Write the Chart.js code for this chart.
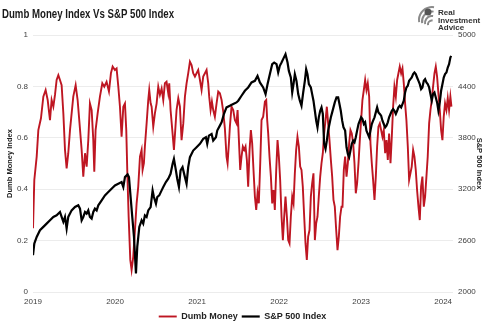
<!DOCTYPE html>
<html>
<head>
<meta charset="utf-8">
<title>Dumb Money Index Vs S&amp;P 500 Index</title>
<script src="https://cdn.jsdelivr.net/npm/chart.js@4.4.1/dist/chart.umd.min.js"></script>
<style>
  html, body { margin: 0; padding: 0; background: #fff; }
  #wrap { width: 485px; height: 335px; position: relative; }
</style>
</head>
<body>
<div id="wrap"><canvas id="chart" width="485" height="335"></canvas></div>
<script>
// Dumb Money Index (left axis), x in decimal years
const dmYears = [
  2019.000, 2019.016, 2019.045, 2019.065, 2019.097, 2019.126, 2019.154, 2019.179, 2019.207, 2019.227,
  2019.248, 2019.268, 2019.288, 2019.309, 2019.329, 2019.349, 2019.370, 2019.390, 2019.410, 2019.430,
  2019.451, 2019.491, 2019.520, 2019.544, 2019.564, 2019.593, 2019.613, 2019.634, 2019.654, 2019.674,
  2019.694, 2019.715, 2019.735, 2019.747, 2019.763, 2019.788, 2019.816, 2019.845, 2019.869, 2019.897,
  2019.926, 2019.950, 2019.971, 2019.999, 2020.019, 2020.040, 2020.060, 2020.080, 2020.101, 2020.121,
  2020.137, 2020.149, 2020.166, 2020.186, 2020.202, 2020.222, 2020.243, 2020.263, 2020.283, 2020.304,
  2020.324, 2020.336, 2020.352, 2020.364, 2020.385, 2020.405, 2020.417, 2020.434, 2020.446, 2020.466,
  2020.486, 2020.507, 2020.527, 2020.547, 2020.568, 2020.588, 2020.608, 2020.628, 2020.649, 2020.661,
  2020.677, 2020.698, 2020.718, 2020.734, 2020.750, 2020.771, 2020.791, 2020.811, 2020.832, 2020.852,
  2020.872, 2020.892, 2020.913, 2020.933, 2020.953, 2020.974, 2020.994, 2021.014, 2021.035, 2021.055,
  2021.075, 2021.096, 2021.116, 2021.136, 2021.148, 2021.165, 2021.181, 2021.197, 2021.217, 2021.238,
  2021.258, 2021.278, 2021.299, 2021.319, 2021.339, 2021.359, 2021.372, 2021.388, 2021.400, 2021.420,
  2021.441, 2021.461, 2021.481, 2021.494, 2021.510, 2021.526, 2021.542, 2021.558, 2021.575, 2021.591,
  2021.607, 2021.623, 2021.640, 2021.656, 2021.672, 2021.688, 2021.705, 2021.721, 2021.737, 2021.753,
  2021.770, 2021.786, 2021.806, 2021.827, 2021.843, 2021.855, 2021.867, 2021.883, 2021.900, 2021.916,
  2021.932, 2021.948, 2021.965, 2021.981, 2021.997, 2022.013, 2022.030, 2022.046, 2022.062, 2022.078,
  2022.095, 2022.111, 2022.127, 2022.143, 2022.160, 2022.176, 2022.192, 2022.208, 2022.224, 2022.241,
  2022.257, 2022.273, 2022.289, 2022.306, 2022.322, 2022.338, 2022.354, 2022.371, 2022.387, 2022.403,
  2022.419, 2022.436, 2022.452, 2022.468, 2022.484, 2022.501, 2022.517, 2022.533, 2022.549, 2022.566,
  2022.582, 2022.598, 2022.614, 2022.631, 2022.647, 2022.663, 2022.679, 2022.696, 2022.712, 2022.728,
  2022.744, 2022.761, 2022.773, 2022.789, 2022.805, 2022.822, 2022.838, 2022.854, 2022.870, 2022.886,
  2022.903, 2022.919, 2022.935, 2022.951, 2022.968, 2022.984, 2023.000, 2023.016, 2023.033, 2023.049,
  2023.065, 2023.081, 2023.098, 2023.114, 2023.130, 2023.146, 2023.163, 2023.179, 2023.195, 2023.211,
  2023.228, 2023.244, 2023.260, 2023.276, 2023.293, 2023.309, 2023.325, 2023.341, 2023.358, 2023.374,
  2023.390, 2023.406, 2023.423, 2023.439, 2023.455, 2023.471, 2023.488, 2023.504, 2023.520, 2023.536,
  2023.552, 2023.569, 2023.585, 2023.601, 2023.617, 2023.634, 2023.650, 2023.666, 2023.682, 2023.699,
  2023.715, 2023.731, 2023.747, 2023.764, 2023.780, 2023.796, 2023.812, 2023.829, 2023.845, 2023.861,
  2023.877, 2023.894, 2023.910, 2023.926, 2023.942, 2023.959, 2023.975, 2023.991, 2024.007, 2024.023,
  2024.040, 2024.056, 2024.072, 2024.088, 2024.101
];
const dmValues = [
  0.248, 0.436, 0.527, 0.630, 0.676, 0.760, 0.786, 0.747, 0.669, 0.747,
  0.721, 0.767, 0.825, 0.844, 0.825, 0.805, 0.695, 0.553, 0.481, 0.540,
  0.630, 0.760, 0.805, 0.747, 0.669, 0.553, 0.449, 0.540, 0.488, 0.591,
  0.734, 0.708, 0.591, 0.468, 0.630, 0.695, 0.760, 0.812, 0.799, 0.818,
  0.780, 0.851, 0.877, 0.864, 0.870, 0.799, 0.721, 0.604, 0.721, 0.734,
  0.630, 0.475, 0.293, 0.125, 0.086, 0.137, 0.241, 0.345, 0.410, 0.527,
  0.553, 0.475, 0.501, 0.566, 0.656, 0.747, 0.786, 0.734, 0.721, 0.643,
  0.695, 0.734, 0.799, 0.767, 0.792, 0.747, 0.812, 0.818, 0.773, 0.812,
  0.708, 0.630, 0.553, 0.630, 0.708, 0.754, 0.721, 0.591, 0.656, 0.760,
  0.812, 0.851, 0.896, 0.883, 0.851, 0.838, 0.851, 0.864, 0.825, 0.786,
  0.838, 0.851, 0.864, 0.812, 0.760, 0.708, 0.741, 0.708, 0.682, 0.734,
  0.780, 0.773, 0.747, 0.702, 0.637, 0.527, 0.501, 0.578, 0.643, 0.721,
  0.708, 0.669, 0.656, 0.708, 0.591, 0.475, 0.527, 0.566, 0.553, 0.566,
  0.514, 0.410, 0.553, 0.630, 0.578, 0.475, 0.371, 0.319, 0.384, 0.345,
  0.501, 0.669, 0.682, 0.741, 0.747, 0.669, 0.617, 0.527, 0.449, 0.345,
  0.397, 0.319, 0.475, 0.591, 0.527, 0.436, 0.293, 0.202, 0.293, 0.371,
  0.293, 0.202, 0.189, 0.293, 0.371, 0.345, 0.462, 0.553, 0.604, 0.566,
  0.488, 0.475, 0.410, 0.293, 0.189, 0.125, 0.215, 0.241, 0.371, 0.423,
  0.462, 0.202, 0.267, 0.293, 0.371, 0.449, 0.501, 0.540, 0.617, 0.669,
  0.721, 0.656, 0.591, 0.514, 0.449, 0.358, 0.332, 0.241, 0.163, 0.215,
  0.293, 0.332, 0.332, 0.475, 0.527, 0.449, 0.501, 0.578, 0.630, 0.617,
  0.578, 0.501, 0.384, 0.423, 0.501, 0.591, 0.669, 0.747, 0.786, 0.825,
  0.786, 0.812, 0.760, 0.578, 0.501, 0.436, 0.358, 0.449, 0.566, 0.643,
  0.656, 0.630, 0.604, 0.630, 0.540, 0.591, 0.514, 0.617, 0.501, 0.604,
  0.721, 0.799, 0.760, 0.825, 0.851, 0.877, 0.851, 0.870, 0.812, 0.734,
  0.669, 0.566, 0.436, 0.462, 0.488, 0.553, 0.527, 0.475, 0.397, 0.332,
  0.280, 0.410, 0.449, 0.332, 0.371, 0.449, 0.527, 0.656, 0.708, 0.747,
  0.799, 0.851, 0.877, 0.838, 0.773, 0.708, 0.630, 0.591, 0.682, 0.734,
  0.708, 0.754, 0.708, 0.760, 0.721
];

// S&P 500 Index (right axis)
const spYears = [
  2019.000, 2019.016, 2019.045, 2019.085, 2019.126, 2019.166, 2019.207, 2019.248, 2019.288, 2019.329,
  2019.349, 2019.370, 2019.390, 2019.410, 2019.430, 2019.471, 2019.512, 2019.552, 2019.573, 2019.593,
  2019.613, 2019.634, 2019.654, 2019.674, 2019.694, 2019.715, 2019.735, 2019.755, 2019.776, 2019.796,
  2019.837, 2019.877, 2019.918, 2019.958, 2019.999, 2020.040, 2020.080, 2020.101, 2020.121, 2020.153,
  2020.170, 2020.190, 2020.210, 2020.231, 2020.255, 2020.271, 2020.296, 2020.324, 2020.344, 2020.364,
  2020.385, 2020.405, 2020.434, 2020.458, 2020.474, 2020.499, 2020.515, 2020.539, 2020.568, 2020.588,
  2020.620, 2020.649, 2020.677, 2020.702, 2020.718, 2020.742, 2020.758, 2020.779, 2020.799, 2020.823,
  2020.852, 2020.872, 2020.892, 2020.913, 2020.953, 2020.994, 2021.035, 2021.075, 2021.108, 2021.124,
  2021.144, 2021.177, 2021.197, 2021.230, 2021.246, 2021.278, 2021.299, 2021.327, 2021.359, 2021.400,
  2021.441, 2021.481, 2021.502, 2021.542, 2021.583, 2021.623, 2021.664, 2021.705, 2021.737, 2021.766,
  2021.806, 2021.835, 2021.859, 2021.887, 2021.916, 2021.940, 2021.969, 2021.989, 2022.009, 2022.030,
  2022.058, 2022.078, 2022.103, 2022.119, 2022.143, 2022.160, 2022.176, 2022.192, 2022.212, 2022.233,
  2022.253, 2022.273, 2022.294, 2022.314, 2022.330, 2022.346, 2022.363, 2022.387, 2022.403, 2022.419,
  2022.436, 2022.452, 2022.468, 2022.484, 2022.501, 2022.517, 2022.533, 2022.549, 2022.566, 2022.582,
  2022.598, 2022.614, 2022.631, 2022.647, 2022.663, 2022.679, 2022.700, 2022.720, 2022.736, 2022.752,
  2022.769, 2022.785, 2022.805, 2022.822, 2022.838, 2022.854, 2022.870, 2022.886, 2022.903, 2022.919,
  2022.935, 2022.951, 2022.968, 2022.984, 2023.000, 2023.016, 2023.033, 2023.049, 2023.065, 2023.081,
  2023.098, 2023.114, 2023.130, 2023.146, 2023.163, 2023.179, 2023.195, 2023.211, 2023.228, 2023.244,
  2023.260, 2023.276, 2023.293, 2023.309, 2023.325, 2023.341, 2023.358, 2023.374, 2023.390, 2023.406,
  2023.423, 2023.439, 2023.455, 2023.471, 2023.488, 2023.504, 2023.520, 2023.536, 2023.552, 2023.569,
  2023.585, 2023.601, 2023.617, 2023.634, 2023.650, 2023.666, 2023.682, 2023.699, 2023.715, 2023.731,
  2023.747, 2023.764, 2023.780, 2023.796, 2023.812, 2023.829, 2023.845, 2023.861, 2023.877, 2023.894,
  2023.910, 2023.926, 2023.942, 2023.959, 2023.975, 2023.991, 2024.007, 2024.023, 2024.040, 2024.056,
  2024.072, 2024.088, 2024.097
];
const spValues = [
  2430, 2566, 2643, 2721, 2760, 2798, 2837, 2876, 2895, 2934,
  2876, 2818, 2876, 2740, 2876, 2953, 2992, 3012, 2973, 2837,
  2876, 2934, 2915, 2953, 2876, 2857, 2934, 2973, 2953, 3012,
  3070, 3128, 3167, 3205, 3244, 3264, 3283, 3225, 3341, 3372,
  3341, 3108, 2876, 2643, 2217, 2527, 2760, 2837, 2798, 2895,
  2876, 2953, 2992, 3186, 3109, 3031, 3109, 3128, 3186, 3225,
  3283, 3322, 3380, 3496, 3554, 3419, 3322, 3225, 3419, 3457,
  3341, 3264, 3457, 3574, 3651, 3690, 3729, 3787, 3806, 3729,
  3826, 3845, 3767, 3806, 3884, 3942, 3981, 4078, 4155, 4174,
  4194, 4213, 4233, 4291, 4349, 4388, 4446, 4465, 4523, 4446,
  4388, 4310, 4426, 4543, 4659, 4678, 4659, 4562, 4640, 4678,
  4736, 4775, 4678, 4581, 4504, 4330, 4426, 4543, 4465, 4310,
  4233, 4174, 4330, 4465, 4601, 4543, 4426, 4388, 4310, 4233,
  4116, 4000, 3922, 4039, 4116, 4155, 4078, 3729, 3671, 3767,
  3884, 3961, 4039, 4097, 4155, 4213, 4271, 4271, 4194, 4116,
  4000, 3922, 3884, 3690, 3612, 3574, 3651, 3729, 3767, 3748,
  3806, 3884, 3961, 4000, 4039, 4019, 3961, 3981, 3884, 3845,
  3806, 3884, 3961, 4000, 4039, 4097, 4155, 4097, 4078, 4058,
  4000, 3961, 3922, 3942, 3981, 4039, 4078, 4116, 4136, 4116,
  4078, 4116, 4155, 4174, 4155, 4194, 4233, 4329, 4388, 4407,
  4465, 4485, 4504, 4543, 4562, 4543, 4504, 4465, 4426, 4368,
  4388, 4465, 4485, 4446, 4426, 4388, 4310, 4233, 4310, 4329,
  4271, 4213, 4116, 4213, 4349, 4426, 4504, 4543, 4562, 4620,
  4659, 4736, 4756
];

// axis settings
const yearTicks = [2019, 2020, 2021, 2022, 2023, 2024];
const dmTicks = [0, 0.2, 0.4, 0.6, 0.8, 1];
const spTicks = [2000, 2600, 3200, 3800, 4400, 5000];

const FONT = "'Liberation Sans Narrow', 'Liberation Sans', Arial, sans-serif";
const TEXT = '#404040';

const toPoints = (xs, ys) => xs.map((x, i) => ({ x: x, y: ys[i] }));

// title + logo drawn on the canvas
const decorations = {
  id: 'decorations',
  afterDraw(chart) {
    const ctx = chart.ctx;
    ctx.save();
    ctx.fillStyle = '#1a1a1a';
    ctx.font = "bold 12px " + FONT;
    ctx.textBaseline = 'middle';
    ctx.textAlign = 'left';
    ctx.fillText('Dumb Money Index Vs S&P 500 Index', 2, 15, 172);

    // small logo mark
    ctx.strokeStyle = '#8a8a8a';
    ctx.lineWidth = 2;
    for (let i = 0; i < 4; i++) {
      ctx.beginPath();
      ctx.arc(432, 20 + i * 1.5, 13 - i * 3, Math.PI * 0.95, Math.PI * 1.55);
      ctx.stroke();
    }
    ctx.fillStyle = '#555';
    ctx.beginPath();
    ctx.arc(428, 12, 3.5, 0, Math.PI * 2);
    ctx.fill();

    ctx.fillStyle = '#333';
    ctx.font = "bold 8px " + FONT;
    ctx.fillText('Real', 438, 13);
    ctx.fillText('Investment', 438, 20.5);
    ctx.fillText('Advice', 438, 28);
    ctx.restore();
  }
};

new Chart(document.getElementById('chart'), {
  type: 'line',
  data: {
    datasets: [
      {
        label: 'Dumb Money',
        data: toPoints(dmYears, dmValues),
        yAxisID: 'yDM',
        borderColor: '#be1622',
        backgroundColor: '#be1622',
        borderWidth: 1.9,
        pointRadius: 0,
        tension: 0,
        order: 1
      },
      {
        label: 'S&P 500 Index',
        data: toPoints(spYears, spValues),
        yAxisID: 'ySP',
        borderColor: '#000000',
        backgroundColor: '#000000',
        borderWidth: 2.2,
        pointRadius: 0,
        tension: 0,
        order: 0
      }
    ]
  },
  options: {
    responsive: false,
    animation: false,
    layout: { padding: { top: 35, left: 0, right: 0, bottom: 4 } },
    plugins: {
      legend: {
        position: 'bottom',
        labels: {
          usePointStyle: true,
          pointStyle: 'line',
          pointStyleWidth: 18,
          padding: 4,
          color: '#222',
          font: { family: FONT, size: 9, weight: 'bold' },
          sort: (a, b) => a.datasetIndex - b.datasetIndex
        }
      },
      tooltip: { enabled: false }
    },
    scales: {
      x: {
        type: 'linear',
        min: 2019,
        max: 2024.12,
        grid: { display: false, drawTicks: false },
        border: { display: false },
        afterBuildTicks: axis => { axis.ticks = yearTicks.map(v => ({ value: v })); },
        ticks: {
          padding: 5,
          maxRotation: 0,
          autoSkip: false,
          color: TEXT,
          font: { family: FONT, size: 8 },
          callback: v => String(v)
        },
        afterFit: axis => { axis.height = 16; }
      },
      yDM: {
        position: 'left',
        min: 0,
        max: 1,
        afterBuildTicks: axis => { axis.ticks = dmTicks.map(v => ({ value: v })); },
        grid: { color: '#ececec', lineWidth: 1, drawTicks: false },
        border: { display: false },
        ticks: {
          padding: 5,
          color: TEXT,
          font: { family: FONT, size: 8 },
          callback: v => String(Math.round(v * 10) / 10)
        },
        title: {
          display: true,
          text: 'Dumb Money Index',
          color: '#222',
          padding: { top: 5, bottom: 0 },
          font: { family: FONT, size: 7.5, weight: 'bold' }
        },
        afterFit: axis => { axis.width = 33; }
      },
      ySP: {
        position: 'right',
        min: 2000,
        max: 5000,
        afterBuildTicks: axis => { axis.ticks = spTicks.map(v => ({ value: v })); },
        grid: { display: false, drawOnChartArea: false, drawTicks: false },
        border: { display: false },
        ticks: {
          padding: 5,
          color: TEXT,
          font: { family: FONT, size: 8 },
          callback: v => String(v)
        },
        title: {
          display: true,
          text: 'S&P 500 Index',
          color: '#222',
          padding: { top: 1, bottom: 0 },
          font: { family: FONT, size: 7.5, weight: 'bold' }
        },
        afterFit: axis => { axis.width = 32; }
      }
    }
  },
  plugins: [decorations]
});
</script>
</body>
</html>
